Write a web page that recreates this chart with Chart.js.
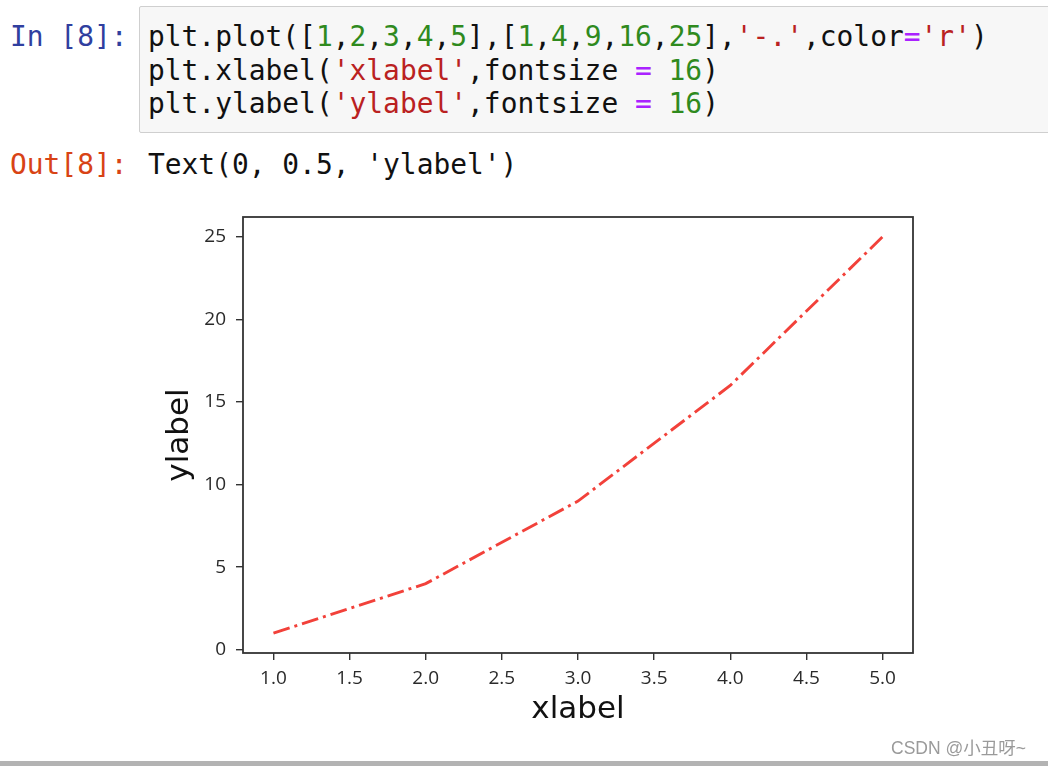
<!DOCTYPE html>
<html>
<head>
<meta charset="utf-8">
<script src="https://cdn.jsdelivr.net/npm/chart.js@4"></script>
<style>
  body { margin: 0; background: #fff; width: 1048px; height: 766px; overflow: hidden; position: relative; }
  .mono { font-family: "DejaVu Sans Mono", monospace; font-size: 27.9px; line-height: 33.5px; white-space: pre; position: absolute; color: #111; }
  .cell { position: absolute; left: 139px; top: 6px; width: 920px; height: 125px; background: #f7f7f7; border: 1px solid #cfcfcf; border-radius: 2px; }
  .p-in { color: #303f9f; }
  .p-out { color: #d84315; }
  .n { color: #2f8a1e; }
  .s { color: #ba2121; }
  .o { color: #aa22ff; }
  #wrap { position: absolute; left: 140px; top: 200px; width: 800px; height: 540px; }
  .mark { position: absolute; left: 891px; top: 734px; font-family: "Liberation Sans", "Noto Sans CJK SC", sans-serif; font-size: 17.5px; color: #9a9a9a; }
  .rule { position: absolute; left: 0; top: 761px; width: 1048px; height: 5px; background: #b3b3b3; }
</style>
</head>
<body>
<div class="cell"></div>
<div class="mono p-in" style="left:10px; top:20px;">In [8]:</div>
<div class="mono" style="left:148px; top:20px;">plt.plot([<span class="n">1</span>,<span class="n">2</span>,<span class="n">3</span>,<span class="n">4</span>,<span class="n">5</span>],[<span class="n">1</span>,<span class="n">4</span>,<span class="n">9</span>,<span class="n">16</span>,<span class="n">25</span>],<span class="s">'-.'</span>,color<span class="o">=</span><span class="s">'r'</span>)
plt.xlabel(<span class="s">'xlabel'</span>,fontsize <span class="o">=</span> <span class="n">16</span>)
plt.ylabel(<span class="s">'ylabel'</span>,fontsize <span class="o">=</span> <span class="n">16</span>)</div>
<div class="mono p-out" style="left:10px; top:148px;">Out[8]:</div>
<div class="mono" style="left:148px; top:148px;">Text(0, 0.5, 'ylabel')</div>

<div id="wrap"><canvas id="plot"></canvas></div>
<div class="mark">CSDN @小丑呀~</div>
<div class="rule"></div>

<script>
const xValues = [1, 2, 3, 4, 5];
const yValues = [1, 4, 9, 16, 25];
const xTicks = [1.0, 1.5, 2.0, 2.5, 3.0, 3.5, 4.0, 4.5, 5.0];
const yTicks = [0, 5, 10, 15, 20, 25];

const points = xValues.map((x, i) => ({ x: x, y: yValues[i] }));

// draws the four spines round the plot area, like matplotlib
const frame = {
    id: 'frame',
    afterDraw(chart) {
        const a = chart.chartArea;
        const c = chart.ctx;
        c.save();
        c.strokeStyle = '#333';
        c.lineWidth = 1.8;
        c.strokeRect(a.left, a.top, a.right - a.left, a.bottom - a.top);
        c.restore();
    }
};

const tickFont = { family: 'Open Sans', size: 19 };
const titleFont = { family: 'DejaVu Sans', size: 31 };

new Chart(document.getElementById('plot'), {
    type: 'line',
    data: {
        datasets: [{
            data: points,
            borderColor: '#f2413a',
            borderWidth: 2.9,
            borderDash: [17, 5, 3, 5],
            pointRadius: 0,
            tension: 0,
            fill: false
        }]
    },
    options: {
        responsive: true,
        maintainAspectRatio: false,
        animation: false,
        layout: { padding: { top: 17, right: 27, left: 0, bottom: 0 } },
        plugins: { legend: { display: false }, tooltip: { enabled: false } },
        scales: {
            x: {
                type: 'linear',
                min: 0.8,
                max: 5.2,
                afterBuildTicks: (scale) => { scale.ticks = xTicks.map(v => ({ value: v })); },
                afterFit: (scale) => { scale.height = 87; scale.paddingLeft = 0; scale.paddingRight = 0; },
                grid: { drawOnChartArea: false, tickLength: 7, color: '#333', lineWidth: 1.4 },
                border: { display: false },
                ticks: { font: tickFont, color: '#2a2a2a', padding: 7, maxRotation: 0, callback: v => v.toFixed(1) },
                title: { display: true, text: 'xlabel', font: titleFont, color: '#111', padding: { top: 0, bottom: 11 } }
            },
            y: {
                type: 'linear',
                min: -0.2,
                max: 26.2,
                afterBuildTicks: (scale) => { scale.ticks = yTicks.map(v => ({ value: v })); },
                afterFit: (scale) => { scale.width = 103; scale.paddingTop = 0; scale.paddingBottom = 0; },
                grid: { drawOnChartArea: false, tickLength: 7, color: '#333', lineWidth: 1.4 },
                border: { display: false },
                ticks: { font: tickFont, color: '#2a2a2a', padding: 10 },
                title: { display: true, text: 'ylabel', font: titleFont, color: '#111', padding: { top: 21, bottom: 0 } }
            }
        }
    },
    plugins: [frame]
});
</script>
</body>
</html>
